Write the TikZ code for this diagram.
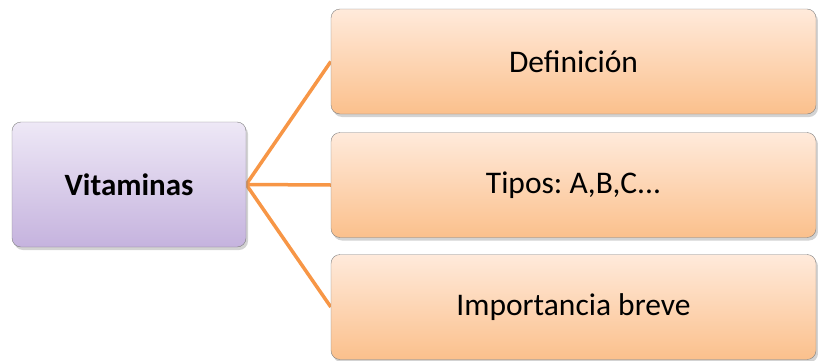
\documentclass[tikz,border=0pt]{standalone}
\usepackage{fontspec}
\setmainfont{Carlito}
\usetikzlibrary{shadows,backgrounds}
\definecolor{lila1}{HTML}{EEE8F6}
\definecolor{lila2}{HTML}{C5B3DE}
\definecolor{naranja1}{HTML}{FFEADB}
\definecolor{naranja2}{HTML}{FBC08C}
\definecolor{rama}{HTML}{F79646}
\frenchspacing
\begin{document}
\begin{tikzpicture}[x=1pt,y=1pt,
    tema/.style={draw=black!50, rounded corners=9pt, top color=lila1, bottom color=lila2,
        minimum width=234pt, minimum height=125pt, font=\fontsize{31}{37}\selectfont\bfseries,
        drop shadow={shadow xshift=2pt, shadow yshift=-3pt, opacity=0.35}},
    hoja/.style={draw=black!50, rounded corners=9pt, top color=naranja1, bottom color=naranja2,
        minimum width=485pt, minimum height=105pt, font=\fontsize{31.5}{37}\selectfont,
        drop shadow={shadow xshift=2pt, shadow yshift=-3pt, opacity=0.35}}]
    \useasboundingbox (0,0) rectangle (818,360);
    \node[tema] (vit) at (129,175.5) {Vitaminas};
    \node[hoja] (def) at (573.5,298.5) {Definición};
    \node[hoja] (tip) at (573.5,175) {Tipos: A,B,C.{}.{}.};
    \node[hoja] (imp) at (573.5,53) {Importancia breve};
    \begin{scope}[on background layer]
      \draw[rama, line width=3.5pt] (vit.east)--(def.west);
      \draw[rama, line width=3.5pt] (vit.east)--(tip.west);
      \draw[rama, line width=3.5pt] (vit.east)--(imp.west);
    \end{scope}
  \end{tikzpicture}
\end{document}
